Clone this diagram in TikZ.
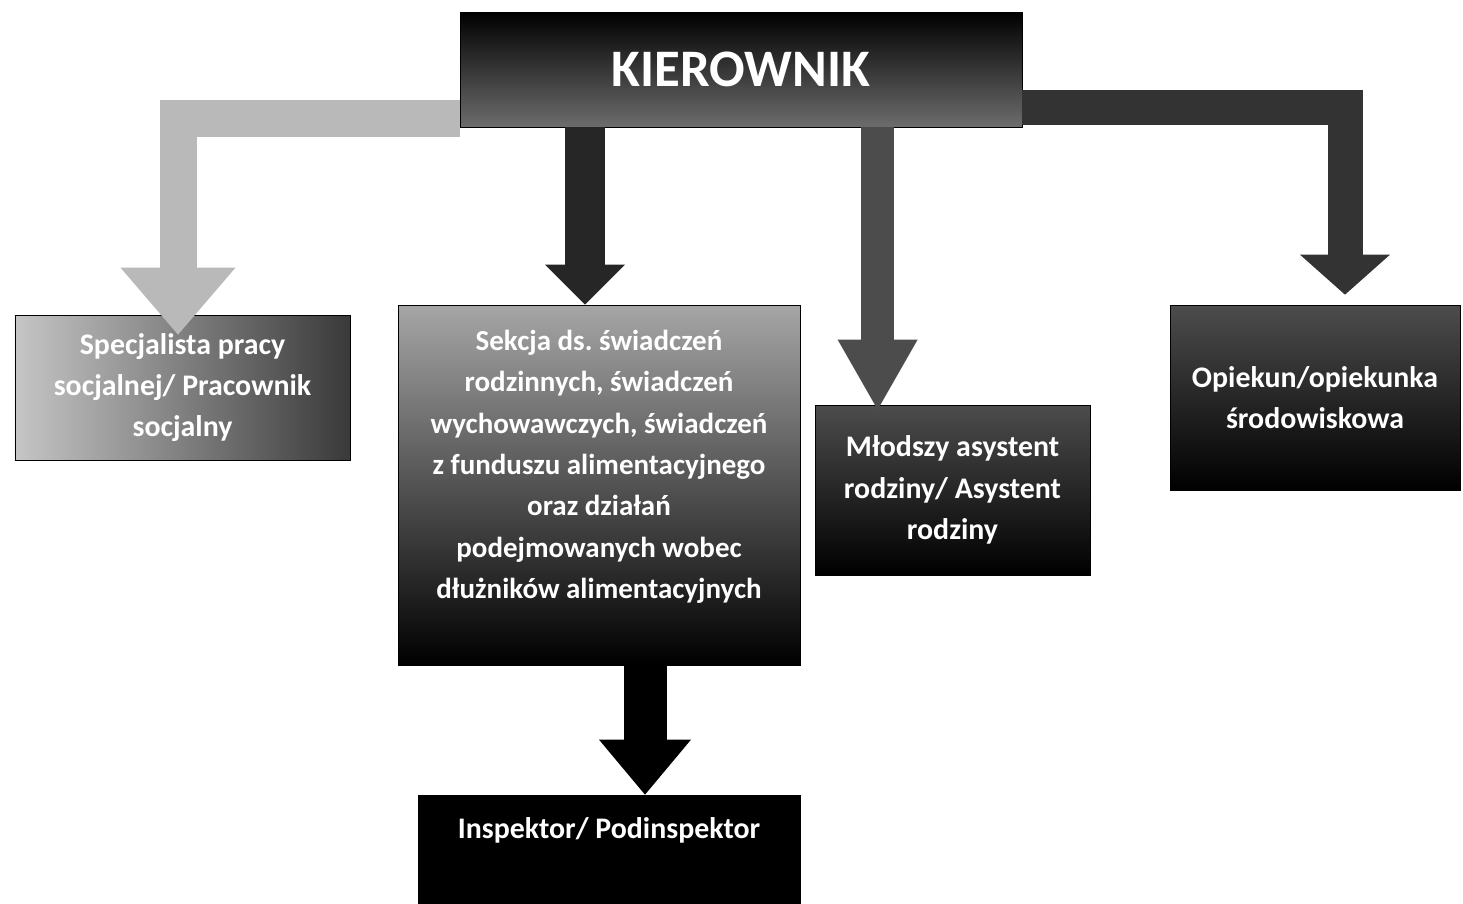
\documentclass[tikz,border=0pt]{standalone}
\usepackage{fontspec}
\setmainfont{Carlito}
\usetikzlibrary{arrows.meta}

\tikzset{
    post/.style={draw=black, line width=0.4pt, text=white, align=center,
        font=\bfseries\fontsize{17}{23.5}\selectfont},
    bar/.style={line join=miter, line cap=butt},
}

\begin{document}
\begin{tikzpicture}[x=1cm,y=1cm]

    \useasboundingbox (0,0) rectangle (29.26,-18.06);

    % boxes
    \node[post, minimum width=11.24cm, minimum height=2.3cm, top color=black,
        bottom color=gray!85!black, font=\bfseries\fontsize{30}{36}\selectfont]
        (kier) at (14.82,-1.39) {KIEROWNIK};

    \node[post, minimum width=6.7cm, minimum height=2.9cm, left color=gray!45,
        right color=gray!45!black] (soc) at (3.65,-7.75)
        {Specjalista pracy\\socjalnej/ Pracownik\\socjalny};

    \node[post, minimum width=8.04cm, minimum height=7.2cm, top color=gray!70,
        middle color=black!85, bottom color=black,
        font=\bfseries\fontsize{16.5}{23.5}\selectfont] (sek) at (11.98,-9.7)
        {Sekcja ds.\ świadczeń\\rodzinnych, świadczeń\\wychowawczych, świadczeń\\
         z funduszu alimentacyjnego\\oraz działań\\podejmowanych wobec\\
         dłużników alimentacyjnych\\[0pt]\mbox{}};

    \node[post, minimum width=5.5cm, minimum height=3.4cm, top color=black!70,
        bottom color=black] (asy) at (19.05,-9.8)
        {Młodszy asystent\\rodziny/ Asystent\\rodziny};

    \node[post, minimum width=5.8cm, minimum height=3.7cm, top color=black!70,
        bottom color=black] (opi) at (26.3,-7.95)
        {Opiekun/opiekunka\\środowiskowa};

    \node[post, minimum width=7.64cm, minimum height=2.16cm, fill=black]
        (ins) at (12.18,-16.98) {Inspektor/ Podinspektor\\[0pt]\mbox{}};

    % arrows
    \draw[bar, gray!55, line width=0.74cm,
        -{Triangle[width=2.3cm, length=1.34cm, line width=0pt]}]
        ([yshift=0.18cm]kier.south west) -| ([xshift=-0.09cm,yshift=-0.4cm]soc.north);

    \draw[bar, black!85, line width=0.8cm,
        -{Triangle[width=1.6cm, length=0.8cm, line width=0pt]}]
        ([xshift=-0.28cm]sek.north |- kier.south) -- ([xshift=-0.28cm]sek.north);

    \draw[bar, black!70, line width=0.66cm,
        -{Triangle[width=1.6cm, length=1.4cm, line width=0pt]}]
        ([xshift=1.26cm]asy.north west |- kier.south) -- ([xshift=1.26cm,yshift=-0.1cm]asy.north west);

    \draw[bar, black!80, line width=0.7cm,
        -{Triangle[width=1.8cm, length=0.8cm, line width=0pt]}]
        ([yshift=0.4cm]kier.south east) -| ([xshift=0.6cm,yshift=0.2cm]opi.north);

    \draw[bar, black, line width=0.86cm,
        -{Triangle[width=1.84cm, length=1.1cm, line width=0pt]}]
        ([xshift=0.72cm]ins.north |- sek.south) -- ([xshift=0.72cm]ins.north);

\end{tikzpicture}
\end{document}
